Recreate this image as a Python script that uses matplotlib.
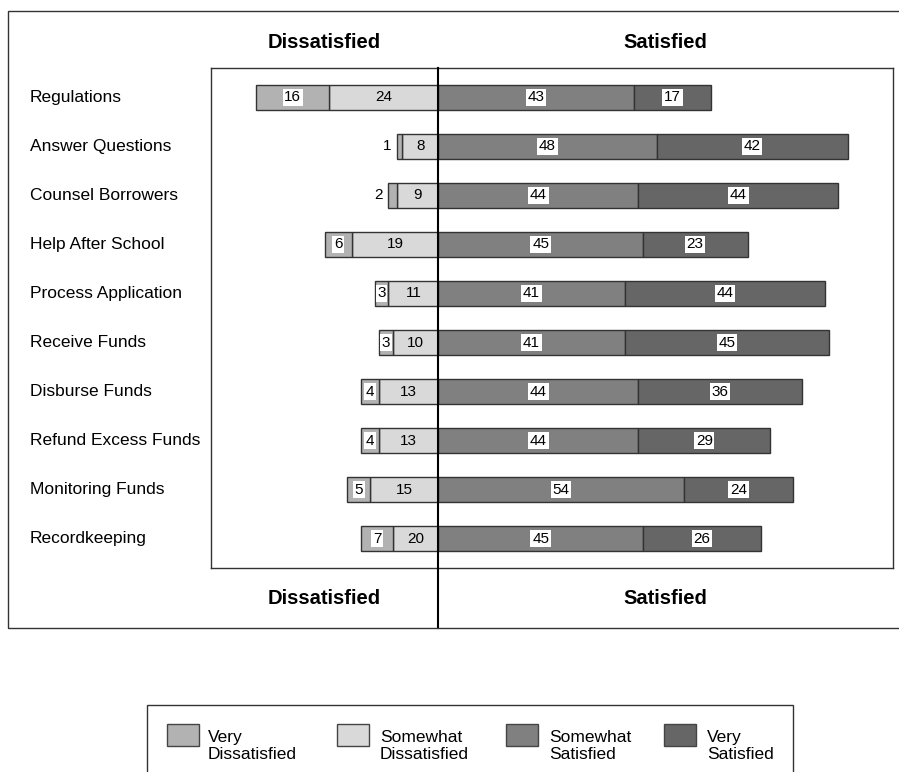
import matplotlib
matplotlib.use("Agg")
import matplotlib.pyplot as plt
from matplotlib.patches import Rectangle
import matplotlib.transforms as mtransforms
import numpy as np

plt.rcParams['font.family'] = ['Liberation Sans', 'DejaVu Sans']

categories = ["Regulations", "Answer Questions", "Counsel Borrowers", "Help After School",
              "Process Application", "Receive Funds", "Disburse Funds",
              "Refund Excess Funds", "Monitoring Funds", "Recordkeeping"]
# bar lengths as drawn
very_dissatisfied = [16, 1, 2, 6, 3, 3, 4, 4, 5, 7]
somewhat_dissatisfied = [24, 8, 9, 19, 11, 10, 13, 13, 15, 10]
somewhat_satisfied = [43, 48, 44, 45, 41, 41, 44, 44, 54, 45]
very_satisfied = [17, 42, 44, 23, 44, 45, 36, 29, 24, 26]
# printed value labels
very_dissatisfied_labels = ["16", "1", "2", "6", "3", "3", "4", "4", "5", "7"]
somewhat_dissatisfied_labels = ["24", "8", "9", "19", "11", "10", "13", "13", "15", "20"]
somewhat_satisfied_labels = ["43", "48", "44", "45", "41", "41", "44", "44", "54", "45"]
very_satisfied_labels = ["17", "42", "44", "23", "44", "45", "36", "29", "24", "26"]
legend_labels = ["Very\nDissatisfied", "Somewhat\nDissatisfied", "Somewhat\nSatisfied", "Very\nSatisfied"]

colors = ["#b2b2b2", "#d9d9d9", "#808080", "#666666"]
edge = "#333333"

W, H = 899, 772
fig = plt.figure(figsize=(W / 100, H / 100), dpi=100)

def fx(px):
    return px / W

def fy(py):
    return 1 - py / H

ax_l, ax_r, ax_t, ax_b = 211, 893, 68, 568
ax = fig.add_axes([fx(ax_l), fy(ax_b), fx(ax_r) - fx(ax_l), (ax_b - ax_t) / H])
ax.set_xlim(-50, 100)
ax.set_ylim(9.6, -0.6)
ax.set_xticks([])
ax.set_yticks([])
for s in ax.spines.values():
    s.set_color("#333333")
    s.set_linewidth(1.0)

y = np.arange(len(categories))
vd = np.array(very_dissatisfied)
sd = np.array(somewhat_dissatisfied)
ss = np.array(somewhat_satisfied)
vs = np.array(very_satisfied)
h = 0.5

ax.barh(y, -sd, left=0, height=h, color=colors[1], edgecolor=edge, linewidth=1)
ax.barh(y, -vd, left=-sd, height=h, color=colors[0], edgecolor=edge, linewidth=1)
ax.barh(y, ss, left=0, height=h, color=colors[2], edgecolor=edge, linewidth=1)
ax.barh(y, vs, left=ss, height=h, color=colors[3], edgecolor=edge, linewidth=1)

box = dict(facecolor="white", edgecolor="none", pad=1.2)
fs_num = 11
for i in range(len(categories)):
    v = vd[i]
    if v < 3:
        ax.text(-sd[i] - v - 1.3, y[i], very_dissatisfied_labels[i], ha="right", va="center", fontsize=fs_num)
    else:
        ax.text(-sd[i] - v / 2, y[i], very_dissatisfied_labels[i], ha="center", va="center",
                fontsize=fs_num, bbox=box)
    ax.text(-sd[i] / 2, y[i], somewhat_dissatisfied_labels[i], ha="center", va="center", fontsize=fs_num)
    ax.text(ss[i] / 2, y[i], somewhat_satisfied_labels[i], ha="center", va="center", fontsize=fs_num, bbox=box)
    ax.text(ss[i] + vs[i] / 2, y[i], very_satisfied_labels[i], ha="center", va="center",
            fontsize=fs_num, bbox=box)

lab_tr = mtransforms.blended_transform_factory(fig.transFigure, ax.transData)
for i, c in enumerate(categories):
    ax.text(fx(30), y[i], c, transform=lab_tr, ha="left", va="center", fontsize=12.5)

trans = mtransforms.blended_transform_factory(ax.transData, ax.transAxes)
ax.plot([0, 0], [1, -(628 - ax_b) / (ax_b - ax_t)], color="black", lw=1.5,
        transform=trans, clip_on=False, zorder=5)

hdr_tr = mtransforms.blended_transform_factory(ax.transData, fig.transFigure)
for yy in (42, 599):
    ax.text(-25, fy(yy), "Dissatisfied", transform=hdr_tr,
            ha="center", va="center", fontsize=14.5, fontweight="bold")
    ax.text(50, fy(yy), "Satisfied", transform=hdr_tr,
            ha="center", va="center", fontsize=14.5, fontweight="bold")

fig.patches.append(Rectangle((fx(8), fy(628)), fx(910) - fx(8), fy(11) - fy(628),
                             transform=fig.transFigure, fill=False, edgecolor="#333333",
                             linewidth=1.0, clip_on=False))

fig.patches.append(Rectangle((fx(147), fy(790)), fx(793) - fx(147), fy(705) - fy(790),
                             transform=fig.transFigure, fill=False, edgecolor="#333333",
                             linewidth=1.0, clip_on=False))
patch_x = [167, 337, 506, 664]
text_x = [208, 380, 549, 707]
for px, tx, col, lab in zip(patch_x, text_x, colors, legend_labels):
    fig.patches.append(Rectangle((fx(px), fy(746)), fx(px + 32) - fx(px), fy(724) - fy(746),
                                 transform=fig.transFigure, facecolor=col, edgecolor="#444444",
                                 linewidth=1.0))
    fig.text(fx(tx), fy(746), lab, ha="left", va="center", fontsize=12.5, linespacing=1.2)

fig.savefig("out.png", dpi=100)
